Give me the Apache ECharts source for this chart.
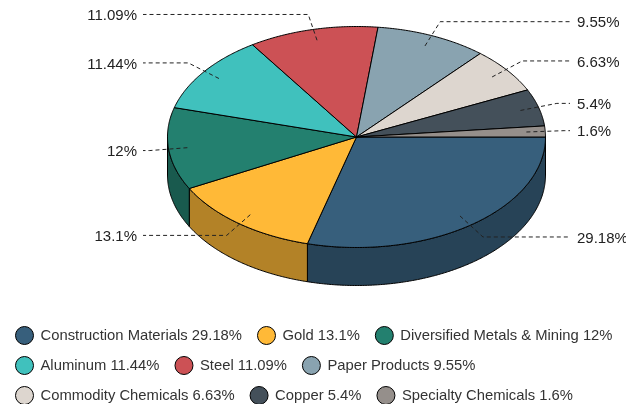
<!DOCTYPE html>
<html>
<head>
<meta charset="utf-8">
<script src="https://cdn.jsdelivr.net/npm/echarts@6/dist/echarts.min.js"></script>
<style>
  html, body { margin: 0; padding: 0; background: #fff; }
  #chart { width: 626px; height: 404px; }
</style>
</head>
<body>
<div id="chart"></div>
<script>
// Industry shares (percent of total)
const categories = [
  'Construction Materials', 'Gold', 'Diversified Metals & Mining',
  'Aluminum', 'Steel', 'Paper Products',
  'Commodity Chemicals', 'Copper', 'Specialty Chemicals'
];
const shares = [29.18, 13.1, 12, 11.44, 11.09, 9.55, 6.63, 5.4, 1.6];
const colors = ['#375f7c', '#ffb937', '#23806f', '#40c1bd', '#cc5155',
                '#89a3b0', '#ddd6cf', '#44505a', '#958f8b'];

const FONT = '"Liberation Sans", Arial, sans-serif';

// Geometry of the tilted disc
const CX = 356.5, CY = 137, RX = 189, RY = 110.5, DEPTH = 38;
const LABEL_RIGHT_X = 570, LABEL_LEFT_X = 143;

const total = shares.reduce((a, b) => a + b, 0);
const starts = [];
let acc = 0;
shares.forEach(v => { starts.push(acc / total * 360); acc += v; });

function darken(hex, k) {
  const n = parseInt(hex.slice(1), 16);
  const r = Math.round(((n >> 16) & 255) * k);
  const g = Math.round(((n >> 8) & 255) * k);
  const b = Math.round((n & 255) * k);
  return 'rgb(' + r + ',' + g + ',' + b + ')';
}

function pt(deg, sx, sy, dy) {
  const a = deg * Math.PI / 180;
  return [CX + RX * sx * Math.cos(a), CY + RY * sy * Math.sin(a) + (dy || 0)];
}

function arc(a0, a1, dy) {
  const pts = [];
  const steps = Math.max(2, Math.ceil((a1 - a0) / 0.5));
  for (let s = 0; s <= steps; s++) {
    pts.push(pt(a0 + (a1 - a0) * s / steps, 1, 1, dy));
  }
  return pts;
}

function makeRender(i) {
  return function (params, api) {
    const a0 = starts[i];
    const a1 = a0 + api.value(0) / total * 360;
    const color = colors[i];
    const children = [];

    // Front wall: only the part of the rim facing the viewer (0..180 deg)
    const w0 = Math.max(a0, 0), w1 = Math.min(a1, 180);
    if (w1 > w0) {
      const top = arc(w0, w1, 0);
      const bottom = arc(w0, w1, DEPTH).reverse();
      children.push({
        type: 'polygon',
        shape: { points: top.concat(bottom) },
        style: { fill: darken(color, 0.7), stroke: '#000', lineWidth: 1, lineJoin: 'round' }
      });
    }

    // Top face of the slice
    children.push({
      type: 'polygon',
      shape: { points: [[CX, CY]].concat(arc(a0, a1, 0)) },
      style: { fill: color, stroke: '#000', lineWidth: 1, lineJoin: 'round' }
    });

    // Connector and value label
    const mid = (a0 + a1) / 2;
    const inner = pt(mid, 0.9, 0.9);
    const elbow = pt(mid, 1.1, 1.14);
    const right = Math.cos(mid * Math.PI / 180) >= 0;
    const endX = right ? LABEL_RIGHT_X : LABEL_LEFT_X;
    children.push({
      type: 'polyline',
      z2: 10,
      shape: { points: [inner, elbow, [endX, elbow[1]]] },
      style: { stroke: '#222', lineWidth: 1, lineDash: [4, 3], fill: null }
    });
    children.push({
      type: 'text',
      z2: 10,
      style: {
        text: api.value(0) + '%',
        x: right ? endX + 7 : endX - 6,
        y: elbow[1] + 1.5,
        align: right ? 'left' : 'right',
        verticalAlign: 'middle',
        fill: '#222',
        fontSize: 15,
        fontFamily: FONT
      }
    });

    return { type: 'group', children: children };
  };
}

const series = categories.map((name, i) => ({
  type: 'custom',
  name: name,
  coordinateSystem: 'none',
  data: [[shares[i]]],
  itemStyle: { color: colors[i] },
  renderItem: makeRender(i),
  animation: false,
  silent: true
}));

function legendRow(names, top) {
  return {
    data: names,
    left: 15,
    top: top,
    padding: 0,
    orient: 'horizontal',
    icon: 'circle',
    itemWidth: 18,
    itemHeight: 18,
    itemGap: 15,
    selectedMode: false,
    itemStyle: { borderColor: '#000', borderWidth: 1 },
    textStyle: { color: '#333', fontSize: 14.8, fontFamily: FONT, padding: [0, 0, 0, 2] },
    formatter: name => name + ' ' + shares[categories.indexOf(name)] + '%'
  };
}

const chart = echarts.init(document.getElementById('chart'), null, { renderer: 'canvas' });
chart.setOption({
  backgroundColor: '#fff',
  animation: false,
  legend: [
    legendRow(categories.slice(0, 3), 326),
    legendRow(categories.slice(3, 6), 356),
    legendRow(categories.slice(6, 9), 386)
  ],
  series: series
});
</script>
</body>
</html>
